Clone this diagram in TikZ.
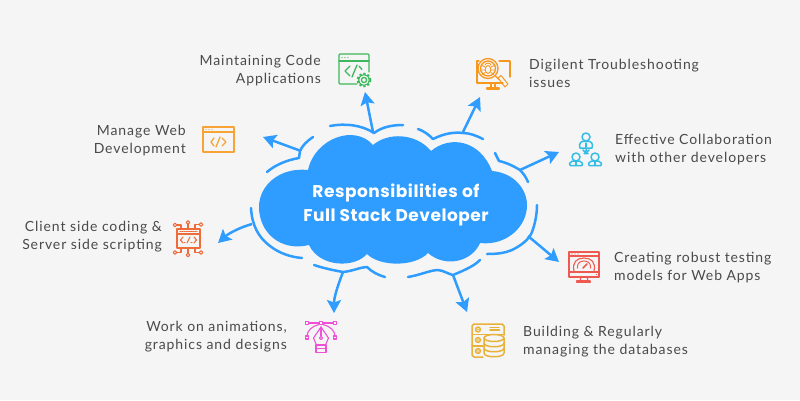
\documentclass[tikz,border=0pt]{standalone}
\usepackage{fontspec}
\setmainfont[LetterSpace=6.5]{Lato}
\newfontfamily\titlefont[LetterSpace=3]{Poppins}
\usetikzlibrary{arrows.meta}
\definecolor{bg}{HTML}{F5F5F5}
\definecolor{cblue}{HTML}{2F9DFF}
\definecolor{ctext}{HTML}{4A4A4A}
\definecolor{cgreen}{HTML}{3DB85C}
\definecolor{corange}{HTML}{F7A335}
\definecolor{cbug}{HTML}{F7981E}
\definecolor{ccyan}{HTML}{35BDE8}
\definecolor{cred}{HTML}{EE6C3A}
\definecolor{cpink}{HTML}{F04FD8}
\definecolor{cmon}{HTML}{EF5A50}
\definecolor{cyel}{HTML}{E8B23A}
\tikzset{
 stroke/.style={draw=cblue,line width=2.5pt,line cap=round,line join=round},
 conn/.style={draw=cblue,line width=2.5pt,-{Stealth[length=13pt,width=14pt,inset=2.5pt]}},
 lblR/.style={font=\fontsize{14}{18}\selectfont,text=ctext,align=right,anchor=east,inner sep=0pt},
 lblL/.style={font=\fontsize{14}{18}\selectfont,text=ctext,align=left,anchor=west,inner sep=0pt},
 ico/.style={line width=1.3pt,line join=round,line cap=round},
}
\begin{document}
\begin{tikzpicture}[x=1pt,y=-1pt]
\useasboundingbox (0,0) rectangle (800,400);
\fill[bg] (0,0) rectangle (800,400);
% cloud
\fill[cblue] (308,170) .. controls (315,138) and (355,124) .. (373,145)
 .. controls (388,132) and (416,133) .. (431,151)
 .. controls (450,135) and (480,140) .. (492,171)
 .. controls (515,173) and (527,190) .. (527,205)
 .. controls (527,228) and (505,246) .. (480,243)
 .. controls (472,262) and (445,268) .. (428,253)
 .. controls (415,267) and (380,267) .. (367,254)
 .. controls (355,268) and (320,268) .. (309,245)
 .. controls (280,252) and (259,232) .. (259,207)
 .. controls (259,185) and (280,167) .. (308,170) -- cycle;
\node[text=white,align=center,inner sep=0pt,font=\titlefont\fontsize{17}{23.5}\selectfont\bfseries] (title) at (396,205) {Responsibilities of\\Full Stack Developer};
% outer strokes
\path[stroke] (330,126) .. controls (345,123) and (362,125) .. (374,133) .. controls (382,127) and (392,125) .. (403,125);
\path[stroke] (418,129) .. controls (424,131) and (429,135) .. (433,139) .. controls (445,133) and (455,132) .. (463,133) .. controls (470,133) and (477,136) .. (483,139);
\path[stroke] (495,153) -- (499,161) .. controls (508,163) and (515,167) .. (520,170) .. controls (523,173) and (526,177) .. (528,182);
\path[stroke] (313,137) .. controls (307,141) and (302,146) .. (300,151) -- (299,158) .. controls (287,160) and (275,165) .. (267,172);
\path[stroke] (251,208) .. controls (252,225) and (258,237) .. (270,246) .. controls (279,253) and (290,257) .. (302,258);
\path[stroke] (314,265) .. controls (323,268) and (332,270) .. (343,272) .. controls (353,271) and (361,267) .. (367,267) .. controls (372,272) and (378,275) .. (385,277);
\path[stroke] (408,277) .. controls (420,275) and (428,271) .. (437,270) .. controls (443,270) and (448,274) .. (453,275) .. controls (465,270) and (474,266) .. (480,260);
\path[stroke] (487,254) .. controls (497,254) and (505,253) .. (512,250) .. controls (520,246) and (529,240) .. (532,232) .. controls (535,224) and (537,214) .. (537,205);
% connector ends
\coordinate (a1) at (373,132); \coordinate (a2) at (365,92);
\coordinate (b1) at (463,132); \coordinate (b2) at (480,97);
\coordinate (c1) at (520,170); \coordinate (c2) at (559,152);
\coordinate (d1) at (301,151); \coordinate (d2) at (263,137);
\coordinate (e1) at (252,224); \coordinate (e2) at (218,243);
\coordinate (f1) at (343,272); \coordinate (f2) at (334,313);
\coordinate (g1) at (453,275); \coordinate (g2) at (467,312);
\coordinate (h1) at (528,236); \coordinate (h2) at (559,262);
\draw[conn] (a1) -- (a2);
\draw[conn] (b1) -- (b2);
\draw[conn] (c1) -- (c2);
\draw[conn] (d1) -- (d2);
\draw[conn] (e1) .. controls (238,228) and (228,234) .. (e2);
\draw[conn] (f1) .. controls (338,285) and (334,297) .. (f2);
\draw[conn] (g1) -- (g2);
\draw[conn] (h1) -- (h2);
% labels
\node[lblR] (t1) at (321,70.5) {Maintaining Code\\Applications};
\node[lblR] (t2) at (186,140.5) {Manage Web\\Development};
\node[lblR] (t3) at (162,236.5) {Client side coding \&\\Server side scripting};
\node[lblR] (t4) at (287,336.5) {Work on animations,\\graphics and designs};
\node[lblL] (t5) at (529,73.5) {Digilent Troubleshooting\\issues};
\node[lblL] (t6) at (615,149.5) {Effective Collaboration\\with other developers};
\node[lblL] (t7) at (614,267.5) {Creating robust testing\\models for Web Apps};
\node[lblL] (t8) at (523,341.5) {Building \& Regularly\\managing the databases};
% icon 1 green
\begin{scope}[ico,draw=cgreen,cgreen]
\draw (357,84) -- (340,84) -- (339,83) -- (339,55) -- (340,54) -- (368,54) -- (369,55) -- (369,72);
\draw (339,61) -- (369,61);
\fill (342,57.5) circle (.7) (345,57.5) circle (.7) (348,57.5) circle (.7);
\draw (350,66) -- (345,71) -- (350,76);
\draw (357,65) -- (352,77);
\draw (359,66) -- (362,69.5);
\draw (364,80) circle (2.6);
\draw[line width=1.1pt] (364,80) circle (5.4);
\draw[dash pattern=on 2.2pt off 2pt,line width=1.8pt,line cap=butt] (364,80) circle (6.4);
\end{scope}
% icon 2 orange
\begin{scope}[ico,draw=corange,corange]
\draw (203,127) rectangle (234,152);
\draw (203,132) -- (234,132);
\fill (206,129.5) circle (.7) (209,129.5) circle (.7) (212,129.5) circle (.7);
\draw (214,138) -- (211,142) -- (214,146);
\draw (222,138) -- (226,142) -- (222,146);
\draw (220,137) -- (216,147);
\end{scope}
% icon 3 bug
\begin{scope}[ico,draw=cbug,cbug]
\draw (479,61) -- (477,61) -- (477,83) -- (503,83) (499,61) -- (510,61) -- (510,77);
\draw (491,83) -- (491,89) (495,83) -- (495,89) (487,89) -- (499,89) -- (499,88) -- (487,88) -- cycle;
\draw (488,68.5) circle (10);
\draw (488,68.5) circle (7.5);
\draw (495.5,76) -- (499,79.5);
\draw[line width=1pt] (498,78) -- (501,75.5) -- (508,84) -- (505,87) -- cycle;
\draw[line width=.9pt] (488,69.5) ellipse (2.8 and 4);
\draw[line width=.9pt] (485,65) .. controls (486,62.5) and (490,62.5) .. (491,65);
\draw[line width=.8pt] (485,67) -- (482,65.5) (485,70) -- (481.5,70) (485,72.5) -- (482.5,74.5);
\draw[line width=.8pt] (491,67) -- (494,65.5) (491,70) -- (494.5,70) (491,72.5) -- (493.5,74.5);
\end{scope}
% icon 4 people
\begin{scope}[ico,draw=ccyan,ccyan,line width=1.5pt]
\draw (586,137) circle (4);
\draw (580,148) -- (579.5,145) .. controls (580,141.5) and (583,141) .. (586,141) .. controls (589,141) and (592,141.5) .. (592.5,145) -- (592,148) -- cycle;
\draw (586,143) -- (586,147);
\draw (586,148) -- (586,153) (583,150) -- (586,153) -- (589,150) (584,153.5) -- (588,153.5);
\draw (576,157) circle (4);
\draw (570,165) -- (569.5,163.5) .. controls (570,161) and (573,161) .. (576,161) .. controls (579,161) and (582,161) .. (582.5,163.5) -- (582,165.5) -- (570,165.5) -- cycle;
\draw (576,162) -- (576,165);
\draw (595,157) circle (4);
\draw (589,165) -- (588.5,163.5) .. controls (589,161) and (592,161) .. (595,161) .. controls (598,161) and (601,161) .. (601.5,163.5) -- (601,165.5) -- (589,165.5) -- cycle;
\draw (595,162) -- (595,165);
\end{scope}
% icon 5 client
\begin{scope}[ico,draw=cred,cred,line width=1.1pt]
\draw (177,229) rectangle (200,248);
\draw (177,234) -- (200,234);
\draw[densely dotted] (180,231.5) -- (197,231.5);
\draw (183,237) -- (180.5,240) -- (183,243) (194,237) -- (196.5,240) -- (194,243);
\draw (190,237) -- (187,243);
\draw (184.5,242.5) -- (185,242.5) (191,242.5) -- (192,242.5);
\draw (175,225) circle (1.8) (188,222.5) circle (1.8) (201,224.5) circle (1.8);
\draw (175,252.5) circle (1.8) (188,255) circle (1.8) (201,252.5) circle (1.8);
\draw (176.8,225) -- (181,225) -- (181,229) (188,224.3) -- (188,229) (199.2,224.5) -- (195,224.5) -- (195,229);
\draw (176.8,252.5) -- (181,252.5) -- (181,248) (188,253.2) -- (188,248) (199.2,252.5) -- (195,252.5) -- (195,248);
\end{scope}
% icon 6 pen
\begin{scope}[ico,draw=cpink,cpink,line width=1.1pt]
\draw (309,323) -- (319,323) (323,323) -- (333,323);
\draw (305.5,321.5) rectangle (308.5,324.5) (319.5,321.5) rectangle (322.5,324.5) (333.5,321.5) rectangle (336.5,324.5);
\draw (307,336) .. controls (307,331) and (312,326) .. (319,324.5);
\draw (335,336) .. controls (335,331) and (330,326) .. (323,324.5);
\draw (305.5,336) rectangle (308.5,339) (333.5,336) rectangle (336.5,339);
\draw (321,327) -- (313.5,338) -- (316.5,345) -- (325.5,345) -- (328.5,338) -- cycle;
\draw (321,327) -- (321,336);
\draw (321,338) circle (1.6);
\draw (316,345) rectangle (326,352.5);
\draw (316,348.5) -- (326,348.5);
\end{scope}
% icon 7 monitor
\begin{scope}[ico,draw=cmon,cmon,line width=1.1pt]
\draw (569,252) rectangle (599,277);
\draw (569,256) -- (599,256);
\draw (569,272) -- (599,272);
\fill (572,254) circle (.6) (575,254) circle (.6) (578,254) circle (.6);
\draw (574,271) .. controls (572,262) and (577,258) .. (584,258) .. controls (591,258) and (596,262) .. (594,271);
\draw[densely dotted] (577.5,268) .. controls (577,263) and (580,261) .. (584,261) .. controls (588,261) and (591,263) .. (590.5,268);
\draw[line width=1.6pt] (583,268) -- (587,264);
\draw (581,277) -- (580,281) (587,277) -- (588,281);
\draw (577,281) rectangle (590,282.5);
\fill (596.5,274.5) circle (.6);
\end{scope}
% icon 8 database
\begin{scope}[ico,draw=cyel,cyel,line width=1.5pt]
\draw (483,357) -- (474,357) -- (472,355) -- (472,326) -- (474,324) -- (502,324) -- (504,326) -- (504,335);
\draw (472,334.5) -- (504,334.5);
\draw (472,346) -- (483,346);
\draw (478,329.5) circle (2.4) (478,340) circle (2.4) (478,351) circle (2.4);
\fill (478,329.5) circle (.8) (478,340) circle (.8) (478,351) circle (.8);
\draw (490,327.5) -- (499,327.5) (490,330) -- (499.5,330);
\draw (494,338) ellipse (10 and 3.5);
\draw (484,338) -- (484,353) .. controls (484,358) and (504,358) .. (504,353) -- (504,338);
\draw (484,343) .. controls (484,348) and (504,348) .. (504,343);
\draw (484,348) .. controls (484,353) and (504,353) .. (504,348);
\end{scope}
\end{tikzpicture}
\end{document}
